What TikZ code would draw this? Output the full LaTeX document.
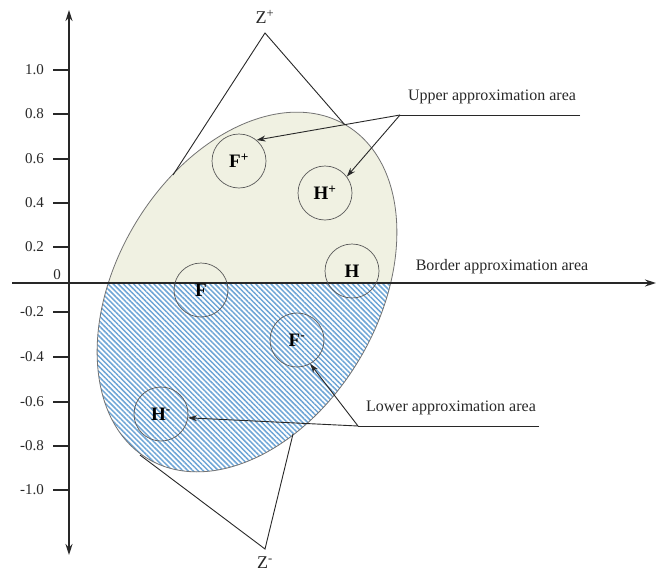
\documentclass[tikz,border=0pt]{standalone}
\usepackage{fontspec}
\setmainfont{Liberation Serif}
\usetikzlibrary{arrows.meta,patterns.meta}
\definecolor{upfill}{RGB}{240,241,226}
\definecolor{hatch}{RGB}{110,165,214}
\definecolor{ink}{RGB}{40,40,40}
\begin{document}
\begin{tikzpicture}[x=1pt,y=1pt,
  axis/.style={line width=1.6pt, draw=ink},
  tickmark/.style={line width=2.6pt, draw=ink},
  ticklab/.style={anchor=east, font=\fontsize{15}{15}\selectfont, text=ink, inner sep=0pt},
  circ/.style={circle, draw=black!65, line width=0.7pt, minimum size=54pt, inner sep=0pt, text=black, font=\fontsize{19}{19}\selectfont\bfseries},
  cone/.style={draw=ink, line width=0.9pt},
  lead/.style={draw=ink, line width=0.9pt},
  arr/.style={lead, -{Stealth[length=9pt,width=6pt]}},
  lab/.style={font=\fontsize{16}{16}\selectfont, text=ink, inner sep=0pt},
  zlab/.style={font=\fontsize{18}{18}\selectfont, text=ink, inner sep=0pt},
  border/.style={draw=black!55, line width=0.8pt}
]
\useasboundingbox (0,0) rectangle (661,-573);
\fill[white] (0,0) rectangle (661,-573);

% ellipse fills
\begin{scope}
  \clip[rotate around={59.4:(247,-292)}] (247,-292) ellipse [x radius=194, y radius=131];
  \fill[upfill] (0,0) rectangle (661,-283);
  \fill[white] (0,-283) rectangle (661,-573);
  \fill[pattern={Lines[angle=-45,distance=3.6pt,line width=1.5pt]}, pattern color=hatch] (0,-283) rectangle (661,-573);
\end{scope}
\draw[border, rotate around={59.4:(247,-292)}] (247,-292) ellipse [x radius=194, y radius=131];

% cones
\coordinate (zp) at (265,-33);
\coordinate (zpl) at (173,-175);
\coordinate (zpr) at (345,-125);
\coordinate (zm) at (265,-549);
\coordinate (zml) at (140,-455);
\coordinate (zmr) at (293,-434);
\draw[cone] (zpl) -- (zp) -- (zpr);
\draw[cone] (zml) -- (zm) -- (zmr);
\node[zlab] (zplab) at (265,-17) {Z\textsuperscript{+}};
\node[zlab] (zmlab) at (265,-563) {Z\textsuperscript{-}};

% axes
\coordinate (vt) at (69,-10);
\coordinate (vb) at (69,-555);
\coordinate (hl) at (12,-283);
\coordinate (hr) at (656,-283);
\draw[axis, {Stealth[length=11pt,width=7pt]}-{Stealth[length=11pt,width=7pt]}] (vb) -- (vt);
\draw[axis, -{Stealth[length=11pt,width=7pt]}] (hl) -- (hr);

% ticks
\foreach \yy/\tl in {70/1.0, 114/0.8, 159/0.6, 203/0.4, 247/0.2, 312/-0.2, 357/-0.4, 402/-0.6, 446/-0.8, 490/-1.0} {
  \draw[tickmark] (53,-\yy) -- (69,-\yy);
  \node[ticklab] at (44,-\yy) {\tl};
}
\node[ticklab, anchor=center] (zero) at (57,-275) {0};

% circles
\node[circ] (fp) at (239,-161) {F\textsuperscript{+}};
\node[circ] (hp) at (325,-193) {H\textsuperscript{+}};
\node[circ] (hb) at (352,-271) {H};
\node[circ] (fb) at (201,-290) {F};
\node[circ] (fm) at (297,-340) {F\textsuperscript{-}};
\node[circ] (hm) at (161,-414) {H\textsuperscript{-}};

% leaders
\coordinate (ue) at (580,-115);
\coordinate (ub) at (400,-115);
\draw[lead] (ue) -- (ub);
\draw[arr] (ub) -- (fp.50);
\draw[arr] (ub) -- (hp.37);
\node[lab] (ulab) at (492,-97) {Upper approximation area};

\node[lab] (blab) at (502,-267) {Border approximation area};

\coordinate (le) at (539,-426);
\coordinate (lb) at (358,-426);
\draw[lead] (le) -- (lb);
\draw[arr] (lb) -- (fm.-61);
\draw[arr] (lb) -- (hm.-8);
\node[lab] (llab) at (451,-408) {Lower approximation area};
\end{tikzpicture}
\end{document}
